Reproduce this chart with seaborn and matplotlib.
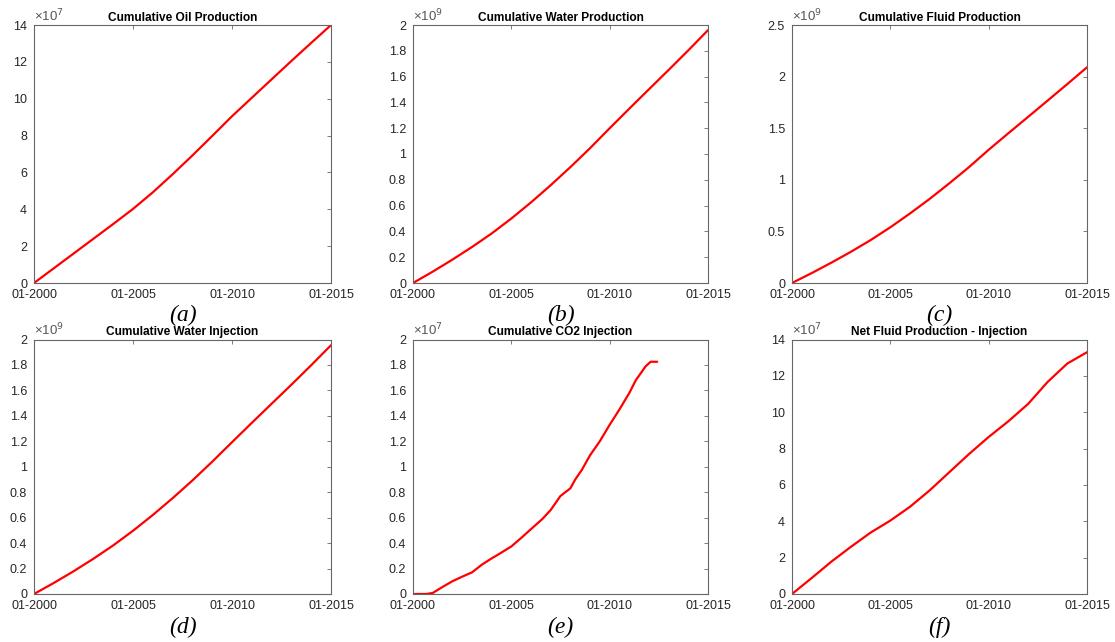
import numpy as np
import pandas as pd
import matplotlib
matplotlib.use("Agg")
import matplotlib.pyplot as plt
import matplotlib.dates as mdates
from matplotlib.ticker import FuncFormatter, MultipleLocator
import seaborn as sns

# ---- data ----
years = [f"{y}-01-01" for y in range(2000, 2016)]

oil_prod = [0, 0.8, 1.6, 2.4, 3.2, 4.02, 4.92, 5.9, 6.92, 7.98, 9.05, 10.05,
            11.05, 12.05, 13.03, 14.0]                             # x 1e7
water_prod = [0, 0.088, 0.181, 0.279, 0.384, 0.50, 0.625, 0.758, 0.898, 1.045,
              1.20, 1.352, 1.502, 1.652, 1.804, 1.96]              # x 1e9
fluid_prod = [0, 0.096, 0.197, 0.303, 0.416, 0.54, 0.674, 0.815, 0.966, 1.123,
              1.291, 1.451, 1.609, 1.768, 1.928, 2.09]             # x 1e9
water_inj = [0, 0.087, 0.179, 0.277, 0.382, 0.497, 0.621, 0.753, 0.892, 1.04,
             1.193, 1.345, 1.495, 1.645, 1.798, 1.955]             # x 1e9
net_fluid = [0, 0.88, 1.78, 2.6, 3.38, 4.04, 4.8, 5.7, 6.7, 7.7, 8.64, 9.5,
             10.45, 11.67, 12.68, 13.3]                            # x 1e7

co2_dates = ["2000-01-01", "2000-09-01", "2001-01-01", "2001-07-01", "2002-01-01",
             "2002-07-01", "2003-01-01", "2003-07-01", "2004-01-01", "2004-05-01",
             "2005-01-01", "2005-07-01", "2006-01-01", "2006-08-01", "2007-01-01",
             "2007-07-01", "2008-01-01", "2008-04-01", "2008-08-01", "2009-01-01",
             "2009-07-01", "2010-01-01", "2010-07-01", "2011-01-01", "2011-05-01",
             "2011-11-01", "2012-02-01", "2012-06-01"]
co2_inj = [0, 0, 0.008, 0.055, 0.10, 0.136, 0.17, 0.23, 0.28, 0.31,
           0.374, 0.44, 0.51, 0.59, 0.66, 0.77, 0.83, 0.90, 0.975, 1.09,
           1.20, 1.33, 1.45, 1.58, 1.68, 1.79, 1.825, 1.825]         # x 1e7

titles = ["Cumulative Oil Production", "Cumulative Water Production",
          "Cumulative Fluid Production", "Cumulative Water Injection",
          "Cumulative CO2 Injection", "Net Fluid Production - Injection"]
panel_labels = ["(a)", "(b)", "(c)", "(d)", "(e)", "(f)"]
exponents = [7, 9, 9, 9, 7, 7]
ymax = [14, 2, 2.5, 2, 2, 14]
ystep = [2, 0.2, 0.5, 0.2, 0.2, 2]
xtick_years = [2000, 2005, 2010, 2015]

series = [(years, oil_prod), (years, water_prod), (years, fluid_prod),
          (years, water_inj), (co2_dates, co2_inj), (years, net_fluid)]

# ---- style ----
sns.set_style("white")
plt.rcParams["font.family"] = ["Liberation Sans", "DejaVu Sans"]
axcol = "#666666"
txtcol = "#262626"

fig = plt.figure(figsize=(11.15, 6.42), dpi=100)
W, H = 1115, 642
lefts = [34, 413, 792]
widths = [297, 295, 295]
rows = [(25, 283), (339.5, 594)]

for i, (dates, vals) in enumerate(series):
    r, c = divmod(i, 3)
    top, bot = rows[r]
    ax = fig.add_axes([lefts[c] / W, 1 - bot / H, widths[c] / W, (bot - top) / H])
    df = pd.DataFrame({"date": pd.to_datetime(dates), "value": vals})
    sns.lineplot(data=df, x="date", y="value", ax=ax, color="red", linewidth=1.6)
    ax.set_xlim(pd.Timestamp("2000-01-01"), pd.Timestamp("2015-01-01"))
    ax.set_ylim(0, ymax[i])
    ax.yaxis.set_major_locator(MultipleLocator(ystep[i]))
    ax.yaxis.set_major_formatter(FuncFormatter(lambda v, p: f"{round(v, 4):g}"))
    ax.set_xticks([pd.Timestamp(f"{y}-01-01") for y in xtick_years])
    ax.xaxis.set_major_formatter(mdates.DateFormatter("%m-%Y"))
    ax.set_xlabel("")
    ax.set_ylabel("")
    ax.tick_params(direction="in", top=True, right=True, length=3, width=0.6,
                   colors=axcol, labelcolor=txtcol, labelsize=9)
    ax.tick_params(axis="y", pad=5)
    ax.tick_params(axis="x", pad=4)
    for s in ax.spines.values():
        s.set_color(axcol)
        s.set_linewidth(0.8)
    ax.set_title(titles[i], fontsize=8.6, fontweight="bold", pad=3, color="black")
    ax.text(0.0, 1.003, "×10$^{%d}$" % exponents[i], transform=ax.transAxes,
            ha="left", va="bottom", fontsize=9.5, color="#555555")
    cx = (lefts[c] + widths[c] / 2) / W
    ly = 315 if r == 0 else 627
    fig.text(cx, 1 - ly / H, panel_labels[i], ha="center", va="center",
             fontsize=17, style="italic", family="Liberation Serif", color="black")

fig.savefig("out.png", dpi=100)
